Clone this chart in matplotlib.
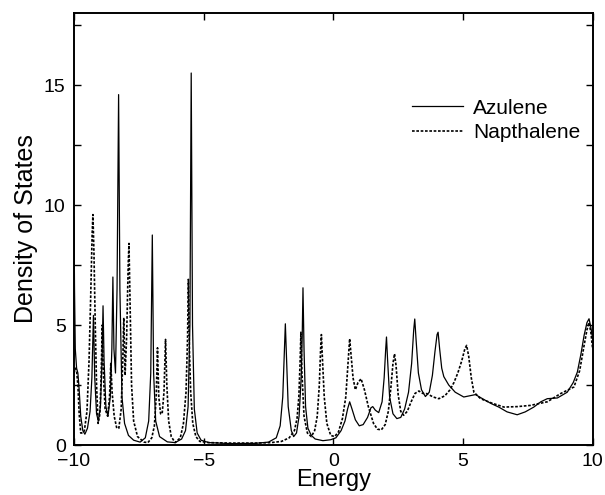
import numpy as np
import matplotlib
matplotlib.use("Agg")
import matplotlib.pyplot as plt

plt.rcParams['font.family'] = ['Liberation Sans', 'DejaVu Sans']

# density of states (energy, DOS)
azulene_e = [-10.0, -9.98, -9.95, -9.9, -9.85, -9.8, -9.74, -9.66, -9.58, -9.48,
             -9.38, -9.31, -9.25, -9.2, -9.13, -9.06, -8.98, -8.92, -8.88, -8.84,
             -8.77, -8.69, -8.6, -8.54, -8.5, -8.46, -8.4, -8.34, -8.28, -8.23,
             -8.15, -8.05, -7.9, -7.7, -7.45, -7.25, -7.12, -7.04, -6.98, -6.93,
             -6.85, -6.7, -6.4, -6.1, -5.85, -5.7, -5.6, -5.53, -5.48, -5.43,
             -5.36, -5.25, -5.1, -4.8, -4.0, -3.0, -2.5, -2.2, -2.05, -1.95,
             -1.89, -1.85, -1.81, -1.74, -1.62, -1.53, -1.42, -1.32, -1.24, -1.2,
             -1.17, -1.13, -1.07, -0.98, -0.85, -0.7, -0.4, -0.1, 0.1, 0.3,
             0.45, 0.55, 0.63, 0.72, 0.85, 1.0, 1.15, 1.32, 1.45, 1.52,
             1.62, 1.75, 1.88, 1.96, 2.02, 2.05, 2.09, 2.17, 2.3, 2.45,
             2.6, 2.75, 2.9, 3.02, 3.1, 3.14, 3.19, 3.28, 3.4, 3.55,
             3.7, 3.82, 3.92, 4.0, 4.04, 4.1, 4.18, 4.26, 4.45, 4.7,
             5.03, 5.25, 5.48, 5.8, 6.1, 6.38, 6.7, 7.09, 7.4, 7.73,
             8.0, 8.25, 8.64, 9.02, 9.25, 9.41, 9.55, 9.67, 9.78, 9.86,
             9.93, 10.0]
azulene_dos = [9.5, 6.5, 4.0, 3.2, 3.0, 2.3, 1.2, 0.6, 0.45, 0.7,
               1.4, 2.8, 5.4, 2.8, 1.3, 1.0, 1.6, 3.5, 5.8, 3.5,
               1.6, 1.2, 2.0, 4.0, 7.0, 4.0, 3.0, 6.5, 14.6, 6.5,
               2.0, 0.9, 0.4, 0.2, 0.12, 0.3, 1.0, 3.0, 8.75, 3.0,
               1.0, 0.35, 0.13, 0.1, 0.25, 0.6, 1.6, 5.0, 15.5, 5.0,
               1.5, 0.5, 0.2, 0.1, 0.06, 0.07, 0.12, 0.3, 0.8, 2.0,
               3.8, 5.05, 3.8, 1.6, 0.6, 0.35, 0.5, 1.2, 2.8, 4.5,
               6.55, 4.0, 1.6, 0.7, 0.4, 0.25, 0.18, 0.22, 0.3, 0.6,
               1.0, 1.5, 1.8, 1.5, 1.05, 0.8, 0.85, 1.15, 1.55, 1.6,
               1.45, 1.35, 1.8, 2.8, 4.0, 4.5, 3.6, 2.0, 1.3, 1.1,
               1.15, 1.5, 2.2, 3.4, 4.8, 5.25, 4.4, 3.0, 2.3, 2.02,
               2.2, 2.9, 3.9, 4.6, 4.7, 4.0, 3.2, 2.85, 2.5, 2.2,
               2.0, 2.05, 2.1, 1.9, 1.72, 1.58, 1.38, 1.26, 1.38, 1.58,
               1.8, 1.93, 1.96, 2.2, 2.6, 3.04, 3.8, 4.57, 5.1, 5.26,
               4.9, 4.43]

napthalene_e = [-10.0, -9.95, -9.9, -9.85, -9.8, -9.74, -9.66, -9.6, -9.5, -9.42,
                -9.36, -9.3, -9.27, -9.23, -9.18, -9.13, -9.07, -9.0, -8.95, -8.91,
                -8.87, -8.8, -8.7, -8.63, -8.58, -8.53, -8.45, -8.35, -8.27, -8.18,
                -8.12, -8.08, -8.03, -7.97, -7.91, -7.88, -7.84, -7.78, -7.7, -7.55,
                -7.3, -7.15, -7.0, -6.9, -6.83, -6.78, -6.73, -6.66, -6.6, -6.53,
                -6.47, -6.42, -6.35, -6.25, -6.1, -5.9, -5.78, -5.68, -5.62, -5.59,
                -5.55, -5.5, -5.42, -5.3, -5.15, -4.8, -4.0, -3.0, -2.4, -2.0,
                -1.7, -1.5, -1.4, -1.33, -1.28, -1.25, -1.21, -1.13, -1.0, -0.85,
                -0.72, -0.62, -0.54, -0.49, -0.46, -0.42, -0.35, -0.25, -0.1, 0.05,
                0.2, 0.35, 0.48, 0.57, 0.63, 0.68, 0.76, 0.85, 0.95, 1.07,
                1.2, 1.35, 1.55, 1.7, 1.85, 2.0, 2.12, 2.22, 2.3, 2.36,
                2.42, 2.5, 2.6, 2.71, 2.85, 3.0, 3.15, 3.3, 3.45, 3.61,
                3.85, 4.07, 4.3, 4.5, 4.65, 4.8, 4.95, 5.07, 5.14, 5.22,
                5.32, 5.42, 5.68, 6.1, 6.58, 7.1, 7.6, 8.25, 8.76, 9.28,
                9.5, 9.67, 9.78, 9.86, 9.93, 10.0]
napthalene_dos = [3.0, 3.2, 3.1, 2.5, 1.3, 0.5, 0.5, 0.6, 1.4, 3.5,
                  6.0, 8.8, 9.6, 8.0, 5.0, 2.5, 0.9, 1.3, 3.0, 5.0,
                  3.0, 1.5, 1.2, 2.0, 3.4, 2.2, 1.2, 0.7, 0.7, 1.5,
                  3.5, 5.3, 2.9, 4.5, 7.5, 8.4, 6.0, 2.5, 1.0, 0.35,
                  0.12, 0.1, 0.3, 0.8, 2.0, 4.05, 2.0, 1.3, 1.3, 2.2,
                  4.4, 2.5, 1.0, 0.35, 0.1, 0.3, 0.9, 2.2, 4.5, 6.9,
                  4.0, 2.2, 0.9, 0.35, 0.15, 0.1, 0.08, 0.08, 0.1, 0.15,
                  0.3, 0.6, 1.1, 2.0, 3.5, 4.7, 3.0, 1.2, 0.5, 0.35,
                  0.6, 1.2, 2.5, 4.0, 4.6, 3.6, 2.0, 0.9, 0.4, 0.35,
                  0.55, 1.1, 2.0, 3.5, 4.43, 3.8, 2.8, 2.3, 2.6, 2.76,
                  2.3, 1.6, 0.9, 0.66, 0.63, 0.85, 1.4, 2.4, 3.4, 3.8,
                  3.3, 2.1, 1.4, 1.24, 1.4, 1.8, 2.15, 2.25, 2.15, 2.14,
                  2.0, 1.93, 2.05, 2.3, 2.6, 3.0, 3.5, 4.0, 4.15, 3.7,
                  2.8, 2.2, 1.93, 1.75, 1.58, 1.6, 1.65, 1.8, 2.14, 2.42,
                  3.1, 4.15, 4.8, 5.1, 4.7, 4.0]

labels = ['Azulene', 'Napthalene']

fig = plt.figure(figsize=(6.05, 4.95), dpi=100)
ax = fig.add_axes([0.1223, 0.101, 0.8573, 0.8727])

ax.plot(azulene_e, azulene_dos, color='black', lw=0.9, ls='-', label=labels[0])
ax.plot(napthalene_e, napthalene_dos, color='black', lw=1.2, ls=(0, (1.6, 1.0)),
        label=labels[1])

ax.set_xlim(-10, 10)
ax.set_ylim(0, 18)
ax.set_xticks([-10, -5, 0, 5, 10])
ax.set_yticks(np.arange(0, 18, 2.5))
ax.set_yticklabels(['0', '', '5', '', '10', '', '15', ''])
ax.tick_params(direction='in', top=True, right=True, length=5, width=1,
               labelsize=14)
ax.tick_params(axis='x', pad=6)
ax.tick_params(axis='y', pad=6)
for s in ax.spines.values():
    s.set_linewidth(1.4)

ax.set_xlabel('Energy', fontsize=17, labelpad=-1)
ax.set_ylabel('Density of States', fontsize=18, labelpad=4)

# legend without frame, upper right
ax.legend(loc='upper right', bbox_to_anchor=(1.013, 0.845), frameon=False,
          fontsize=15, handlelength=2.45, handletextpad=0.5, labelspacing=0.25)

plt.savefig('out.png', dpi=100)
